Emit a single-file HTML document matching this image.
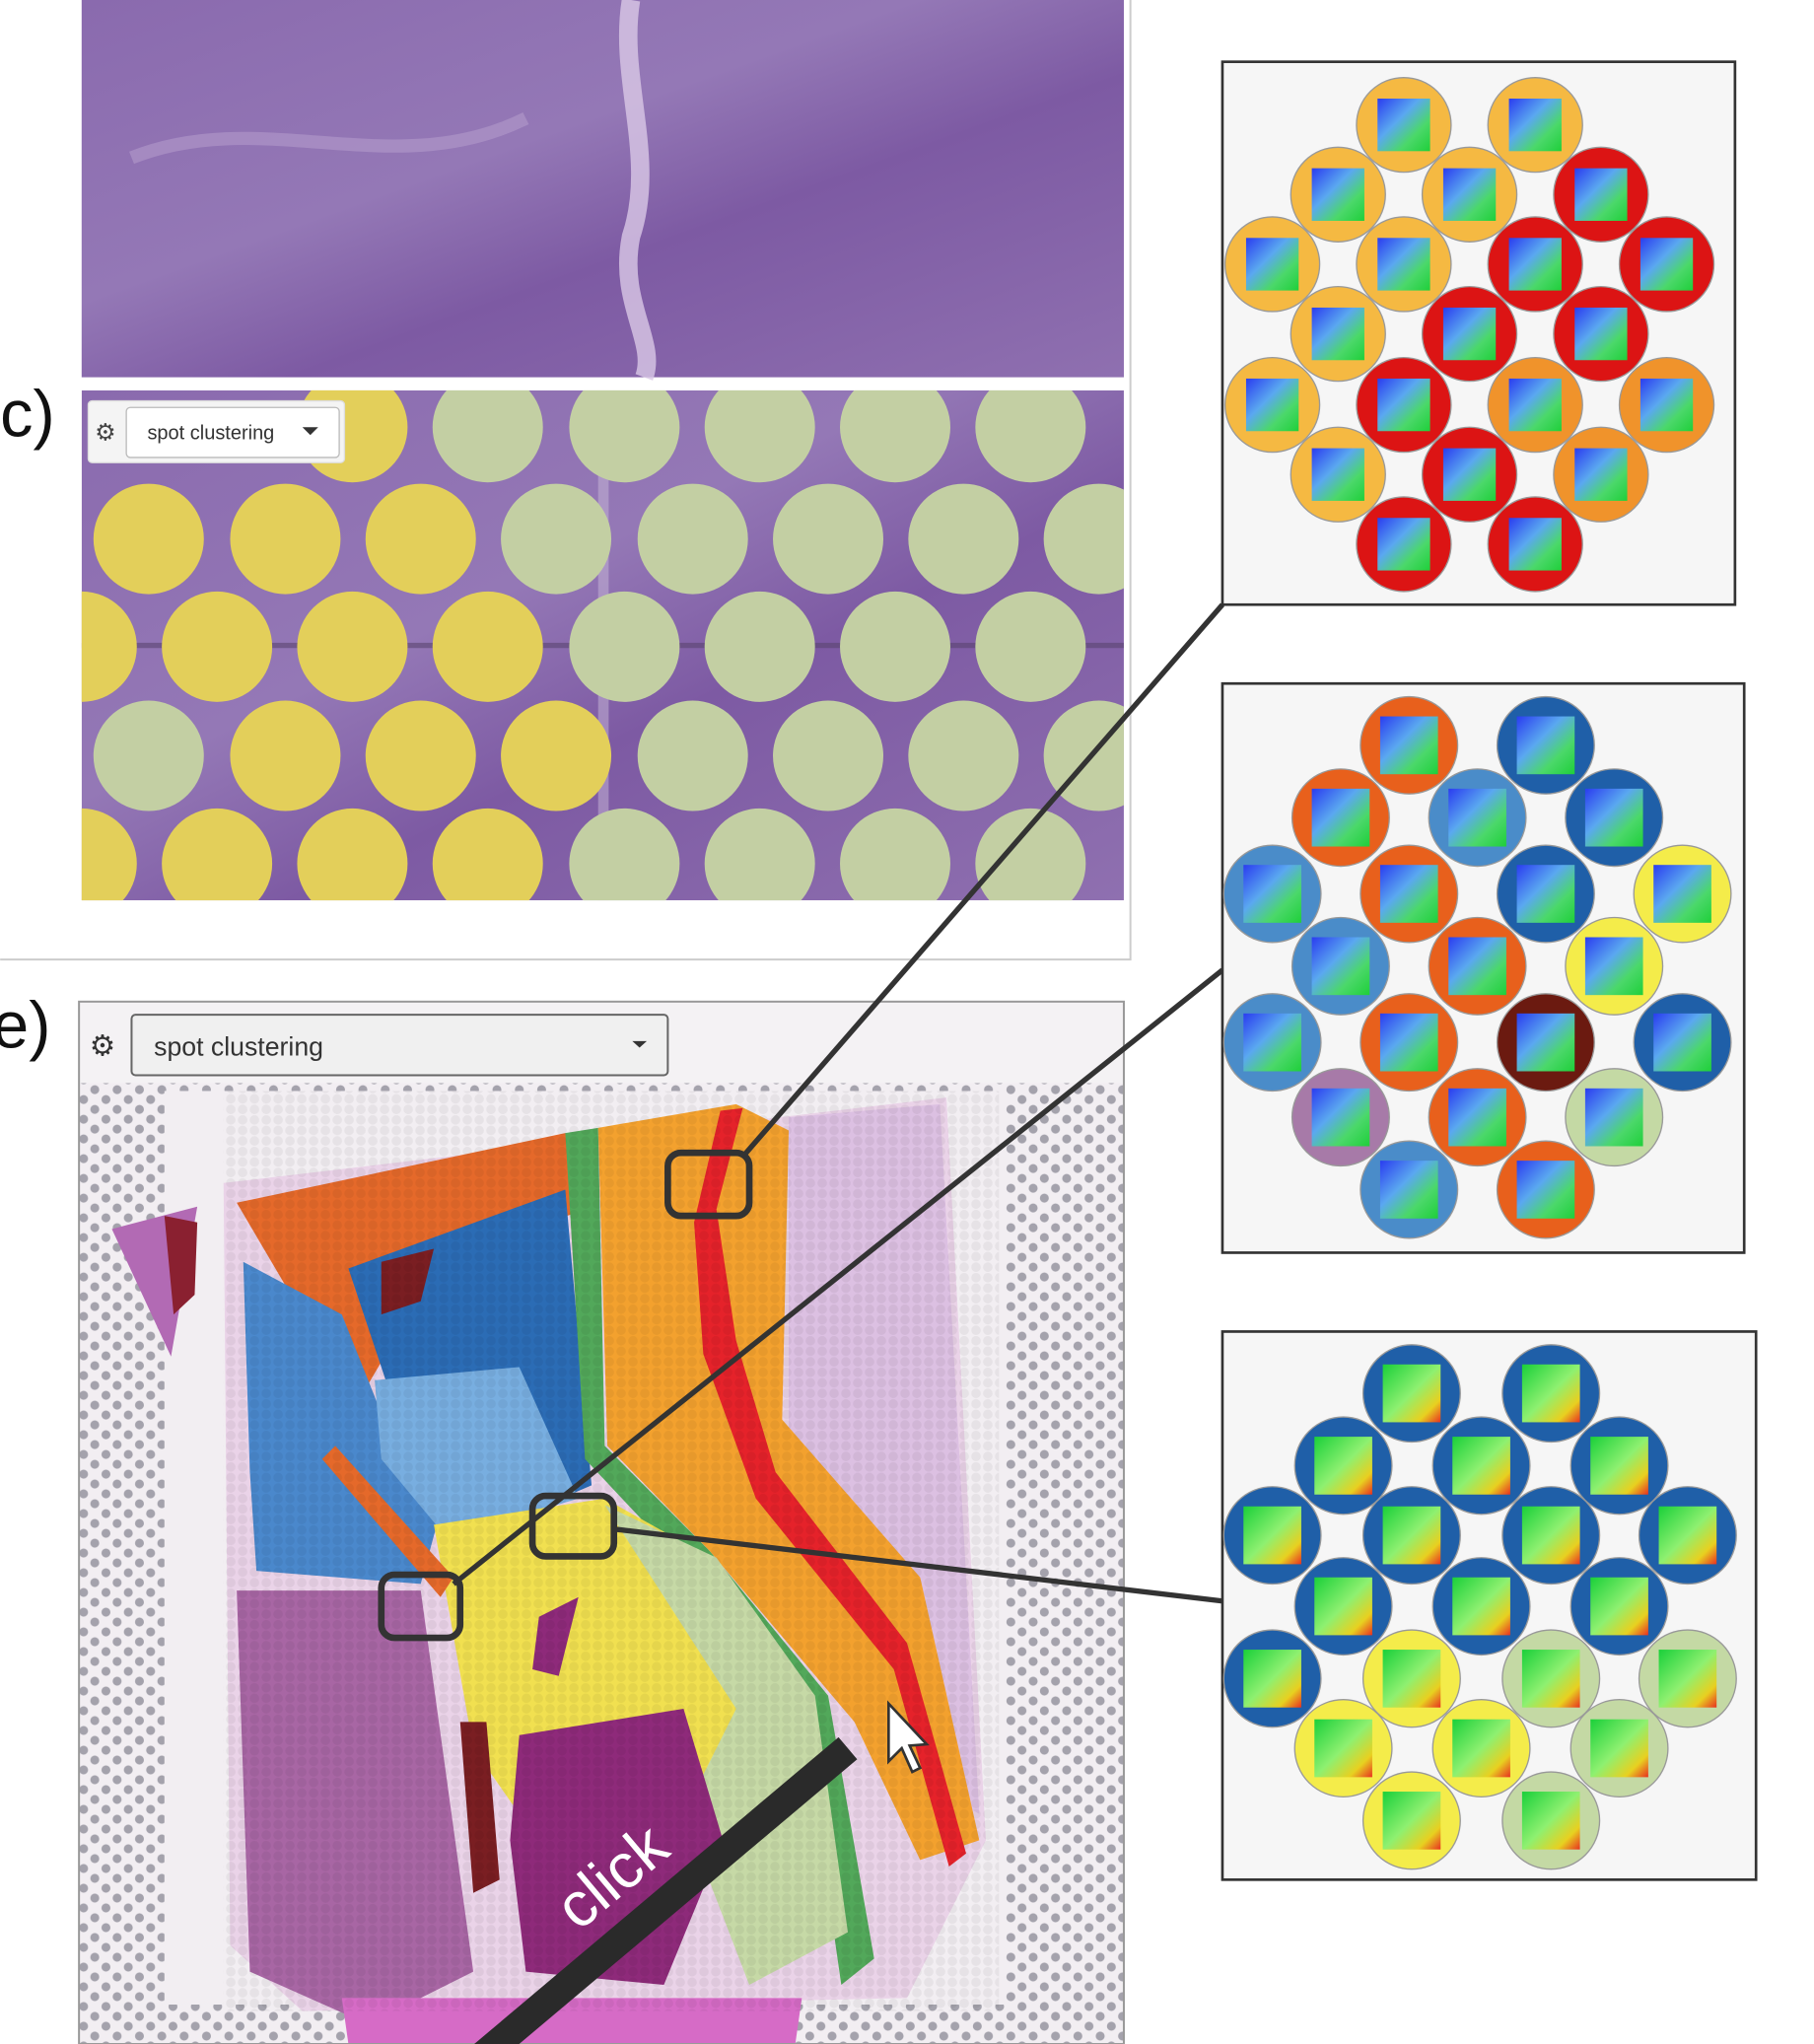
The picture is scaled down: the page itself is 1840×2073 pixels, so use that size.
<!DOCTYPE html>
<html><head><meta charset="utf-8"><style>
html,body{margin:0;padding:0;background:#fff;}
svg{display:block;}
text{font-family:"Liberation Sans",sans-serif;}
</style></head><body>
<svg width="1840" height="2073" viewBox="0 0 1380 1555" xmlns="http://www.w3.org/2000/svg">
<defs>
<linearGradient id="pur" x1="0" y1="0" x2="1" y2="1">
<stop offset="0" stop-color="#8a6aae"/><stop offset="0.4" stop-color="#9478b6"/><stop offset="0.6" stop-color="#7d5aa3"/><stop offset="1" stop-color="#8f70b0"/></linearGradient>
<linearGradient id="hm" x1="0" y1="0" x2="1" y2="1">
<stop offset="0" stop-color="#2a3cf0"/><stop offset="0.4" stop-color="#5aa8f0"/><stop offset="0.7" stop-color="#4bd86a"/><stop offset="1" stop-color="#1fcf3a"/></linearGradient>
<linearGradient id="hm2" x1="0" y1="0" x2="1" y2="1">
<stop offset="0" stop-color="#1ad03a"/><stop offset="0.5" stop-color="#8ef070"/><stop offset="0.8" stop-color="#e8d020"/><stop offset="1" stop-color="#e83020"/></linearGradient>
<pattern id="dots" width="17" height="15" patternUnits="userSpaceOnUse"><circle cx="4" cy="4" r="3.4" fill="#a4a2ac"/><circle cx="12.5" cy="11.5" r="3.4" fill="#a4a2ac"/></pattern>
<pattern id="hex" width="9" height="8" patternUnits="userSpaceOnUse"><circle cx="4.5" cy="4" r="3.6" fill="#000" fill-opacity="0.05"/></pattern>
<clipPath id="cc"><rect x="62" y="297" width="793" height="388"/></clipPath>
<clipPath id="ce"><rect x="60" y="762" width="795" height="793"/></clipPath>
</defs>
<polyline points="0,730 860,730 860,0" fill="none" stroke="#ccc" stroke-width="1.5"/>
<rect x="62" y="0" width="793" height="287" fill="url(#pur)"/>
<path d="M480,0 C470,60 500,120 480,180 C470,230 500,260 490,287" stroke="#d9c8e6" stroke-width="14" fill="none" opacity="0.8"/>
<path d="M100,120 C200,80 300,140 400,90" stroke="#b9a2d0" stroke-width="10" fill="none" opacity="0.5"/>
<g clip-path="url(#cc)">
<rect x="62" y="297" width="793" height="388" fill="url(#pur)"/>
<rect x="62" y="489" width="793" height="4" fill="#5a4570" opacity="0.6"/>
<rect x="455" y="297" width="8" height="388" fill="#c8b8d8" opacity="0.5"/>
<g fill="#e3cf5a">
<circle cx="268" cy="325" r="42"/>
<circle cx="113" cy="410" r="42"/><circle cx="217" cy="410" r="42"/><circle cx="320" cy="410" r="42"/>
<circle cx="62" cy="492" r="42"/><circle cx="165" cy="492" r="42"/><circle cx="268" cy="492" r="42"/><circle cx="371" cy="492" r="42"/>
<circle cx="217" cy="575" r="42"/><circle cx="320" cy="575" r="42"/><circle cx="423" cy="575" r="42"/>
<circle cx="62" cy="657" r="42"/><circle cx="165" cy="657" r="42"/><circle cx="268" cy="657" r="42"/><circle cx="371" cy="657" r="42"/>
</g>
<g fill="#c3cfa3">
<circle cx="371" cy="325" r="42"/><circle cx="475" cy="325" r="42"/><circle cx="578" cy="325" r="42"/><circle cx="681" cy="325" r="42"/><circle cx="784" cy="325" r="42"/>
<circle cx="423" cy="410" r="42"/><circle cx="527" cy="410" r="42"/><circle cx="630" cy="410" r="42"/><circle cx="733" cy="410" r="42"/><circle cx="836" cy="410" r="42"/>
<circle cx="475" cy="492" r="42"/><circle cx="578" cy="492" r="42"/><circle cx="681" cy="492" r="42"/><circle cx="784" cy="492" r="42"/>
<circle cx="113" cy="575" r="42"/><circle cx="527" cy="575" r="42"/><circle cx="630" cy="575" r="42"/><circle cx="733" cy="575" r="42"/><circle cx="836" cy="575" r="42"/>
<circle cx="475" cy="657" r="42"/><circle cx="578" cy="657" r="42"/><circle cx="681" cy="657" r="42"/><circle cx="784" cy="657" r="42"/>
</g>
</g>
<rect x="67" y="305" width="195" height="47" rx="3" fill="#f4f4f4" stroke="#ddd"/>
<rect x="96" y="310" width="162" height="38" rx="3" fill="#fff" stroke="#bbb"/>
<text x="72" y="335" font-size="18" fill="#444">⚙</text>
<text x="112" y="334" font-size="15" fill="#333">spot clustering</text>
<path d="M230,325 l12,0 l-6,6z" fill="#333"/>
<text x="0" y="332" font-size="50" fill="#111">c)</text>
<text x="-6" y="797" font-size="50" fill="#111">e)</text>
<g clip-path="url(#ce)">
<rect x="60" y="762" width="795" height="793" fill="#f2eef2"/>
<rect x="60" y="762" width="795" height="793" fill="url(#dots)"/>
<rect x="125" y="830" width="640" height="695" fill="#f2eef2"/>
<rect x="60" y="762" width="795" height="62" fill="#f4f2f4"/>
<path d="M170,900 L720,835 L750,1400 L690,1520 L230,1530 L175,1480 Z" fill="#ead3e8"/>
<path d="M600,850 L715,840 L745,1380 L660,1330 L600,1200 Z" fill="#dcc0e2"/>
<path d="M85,935 L150,918 L130,1032 Z" fill="#b26ab4"/>
<path d="M125,925 L150,930 L148,985 L132,1000 Z" fill="#8a2030"/>
<path d="M180,915 L430,862 L445,920 L335,960 L270,1070 L230,1000 Z" fill="#e5692a"/>
<path d="M265,965 L430,905 L450,1130 L380,1160 L300,1070 Z" fill="#2b6cb5"/>
<path d="M185,960 L260,1000 L300,1100 L335,1150 L320,1205 L195,1195 L190,1120 Z" fill="#4a88cc"/>
<path d="M285,1050 L395,1040 L440,1140 L340,1170 L290,1110 Z" fill="#78aee0"/>
<path d="M290,960 L330,950 L320,990 L290,1000 Z" fill="#7a1e22"/>
<path d="M430,862 L455,858 L460,1100 L540,1180 L630,1290 L665,1490 L640,1510 L610,1300 L520,1190 L445,1110 Z" fill="#52a85a"/>
<path d="M455,858 L560,840 L600,860 L595,1080 L700,1200 L745,1400 L700,1415 L650,1310 L540,1180 L462,1100 Z" fill="#f3a12e"/>
<path d="M548,845 L565,843 L545,920 L560,1020 L590,1120 L690,1250 L735,1410 L722,1420 L680,1270 L575,1140 L535,1030 L528,930 Z" fill="#e5222a"/>
<path d="M330,1160 L460,1140 L540,1185 L600,1290 L560,1410 L430,1430 L360,1330 Z" fill="#f1e050"/>
<path d="M460,1145 L545,1185 L620,1290 L645,1470 L570,1510 L520,1380 L560,1300 Z" fill="#c6d9a6"/>
<path d="M180,1210 L320,1210 L360,1500 L280,1540 L190,1500 Z" fill="#a866a4"/>
<path d="M395,1320 L520,1300 L550,1400 L505,1510 L400,1500 L388,1400 Z" fill="#8e2a7a"/>
<path d="M410,1230 L440,1215 L425,1275 L405,1270 Z" fill="#8e2a7a"/>
<path d="M350,1310 L370,1310 L380,1430 L360,1440 Z" fill="#7a1e22"/>
<path d="M255,1100 L345,1200 L335,1215 L245,1110 Z" fill="#e5692a"/>
<path d="M260,1520 L610,1520 L605,1555 L265,1555 Z" fill="#d66bc6"/>
<rect x="170" y="830" width="590" height="700" fill="url(#hex)"/>
</g>
<rect x="60" y="762" width="795" height="793" fill="none" stroke="#999" stroke-width="1.5"/>
<rect x="100" y="772" width="408" height="46" rx="3" fill="#f0f0f0" stroke="#666" stroke-width="1.5"/>
<text x="68" y="803" font-size="22" fill="#333">⚙</text>
<text x="117" y="803" font-size="20" fill="#333">spot clustering</text>
<path d="M481,792 l11,0 l-5.5,5z" fill="#333"/>
<line x1="645" y1="1330" x2="360" y2="1570" stroke="#2a2a2a" stroke-width="22"/>
<text x="0" y="0" font-size="48" fill="#fff" transform="translate(440,1470) rotate(-40)">click</text>
<path d="M676,1296 L676,1340 L686,1330 L694,1348 L700,1345 L692,1328 L705,1327 Z" fill="#fff" stroke="#333" stroke-width="2"/>
<g stroke="#333" stroke-width="4" fill="none">
<line x1="930" y1="460" x2="565" y2="880"/>
<line x1="930" y1="738" x2="345" y2="1205"/>
<line x1="930" y1="1218" x2="465" y2="1163"/>
<rect x="508" y="877" width="62" height="48" rx="10" stroke-width="5"/>
<rect x="290" y="1198" width="60" height="48" rx="10" stroke-width="5"/>
<rect x="405" y="1138" width="62" height="46" rx="10" stroke-width="5"/>
</g>
<rect x="930" y="47" width="390" height="413" fill="#f6f6f6" stroke="#333" stroke-width="2"/>
<rect x="930" y="520" width="397" height="433" fill="#f6f6f6" stroke="#333" stroke-width="2"/>
<rect x="930" y="1013" width="406" height="417" fill="#f6f6f6" stroke="#333" stroke-width="2"/>
<g stroke="#999" stroke-width="1">
<g fill="#f5b942"><circle cx="1068" cy="95" r="36"/><circle cx="1168" cy="95" r="36"/>
<circle cx="1018" cy="148" r="36"/><circle cx="1118" cy="148" r="36"/>
<circle cx="968" cy="201" r="36"/><circle cx="1068" cy="201" r="36"/>
<circle cx="1018" cy="254" r="36"/><circle cx="968" cy="308" r="36"/><circle cx="1018" cy="361" r="36"/></g>
<g fill="#dc1414"><circle cx="1218" cy="148" r="36"/><circle cx="1168" cy="201" r="36"/><circle cx="1268" cy="201" r="36"/>
<circle cx="1118" cy="254" r="36"/><circle cx="1218" cy="254" r="36"/><circle cx="1068" cy="308" r="36"/>
<circle cx="1118" cy="361" r="36"/><circle cx="1068" cy="414" r="36"/><circle cx="1168" cy="414" r="36"/></g>
<g fill="#f0932b"><circle cx="1168" cy="308" r="36"/><circle cx="1268" cy="308" r="36"/><circle cx="1218" cy="361" r="36"/></g>
<g fill="#e8601c"><circle cx="1072" cy="567" r="37"/><circle cx="1020" cy="622" r="37"/><circle cx="1072" cy="680" r="37"/><circle cx="1124" cy="735" r="37"/><circle cx="1072" cy="793" r="37"/><circle cx="1124" cy="850" r="37"/><circle cx="1176" cy="905" r="37"/></g>
<g fill="#1f5fa8"><circle cx="1176" cy="567" r="37"/><circle cx="1228" cy="622" r="37"/><circle cx="1176" cy="680" r="37"/><circle cx="1280" cy="793" r="37"/></g>
<g fill="#4a8cc9"><circle cx="1124" cy="622" r="37"/><circle cx="968" cy="680" r="37"/><circle cx="1020" cy="735" r="37"/><circle cx="968" cy="793" r="37"/><circle cx="1072" cy="905" r="37"/></g>
<g fill="#f4ec4a"><circle cx="1280" cy="680" r="37"/><circle cx="1228" cy="735" r="37"/></g>
<circle cx="1176" cy="793" r="37" fill="#6b1a10"/>
<circle cx="1020" cy="850" r="37" fill="#a77aa8"/>
<circle cx="1228" cy="850" r="37" fill="#c4d9a4"/>
<g fill="#1f5fa8"><circle cx="1074" cy="1060" r="37"/><circle cx="1180" cy="1060" r="37"/>
<circle cx="1022" cy="1115" r="37"/><circle cx="1127" cy="1115" r="37"/><circle cx="1232" cy="1115" r="37"/>
<circle cx="968" cy="1168" r="37"/><circle cx="1074" cy="1168" r="37"/><circle cx="1180" cy="1168" r="37"/><circle cx="1284" cy="1168" r="37"/>
<circle cx="1022" cy="1222" r="37"/><circle cx="1127" cy="1222" r="37"/><circle cx="1232" cy="1222" r="37"/><circle cx="968" cy="1277" r="37"/></g>
<g fill="#f4ec4a"><circle cx="1074" cy="1277" r="37"/><circle cx="1022" cy="1330" r="37"/><circle cx="1127" cy="1330" r="37"/><circle cx="1074" cy="1385" r="37"/></g>
<g fill="#c4d9a4"><circle cx="1180" cy="1277" r="37"/><circle cx="1284" cy="1277" r="37"/><circle cx="1232" cy="1330" r="37"/><circle cx="1180" cy="1385" r="37"/></g>
</g>
<g fill="url(#hm)">
<rect x="1048" y="75" width="40" height="40"/><rect x="1148" y="75" width="40" height="40"/>
<rect x="998" y="128" width="40" height="40"/><rect x="1098" y="128" width="40" height="40"/><rect x="1198" y="128" width="40" height="40"/>
<rect x="948" y="181" width="40" height="40"/><rect x="1048" y="181" width="40" height="40"/><rect x="1148" y="181" width="40" height="40"/><rect x="1248" y="181" width="40" height="40"/>
<rect x="998" y="234" width="40" height="40"/><rect x="1098" y="234" width="40" height="40"/><rect x="1198" y="234" width="40" height="40"/>
<rect x="948" y="288" width="40" height="40"/><rect x="1048" y="288" width="40" height="40"/><rect x="1148" y="288" width="40" height="40"/><rect x="1248" y="288" width="40" height="40"/>
<rect x="998" y="341" width="40" height="40"/><rect x="1098" y="341" width="40" height="40"/><rect x="1198" y="341" width="40" height="40"/>
<rect x="1048" y="394" width="40" height="40"/><rect x="1148" y="394" width="40" height="40"/>
<rect x="1050" y="545" width="44" height="44"/><rect x="1154" y="545" width="44" height="44"/>
<rect x="998" y="600" width="44" height="44"/><rect x="1102" y="600" width="44" height="44"/><rect x="1206" y="600" width="44" height="44"/>
<rect x="946" y="658" width="44" height="44"/><rect x="1050" y="658" width="44" height="44"/><rect x="1154" y="658" width="44" height="44"/><rect x="1258" y="658" width="44" height="44"/>
<rect x="998" y="713" width="44" height="44"/><rect x="1102" y="713" width="44" height="44"/><rect x="1206" y="713" width="44" height="44"/>
<rect x="946" y="771" width="44" height="44"/><rect x="1050" y="771" width="44" height="44"/><rect x="1154" y="771" width="44" height="44"/><rect x="1258" y="771" width="44" height="44"/>
<rect x="998" y="828" width="44" height="44"/><rect x="1102" y="828" width="44" height="44"/><rect x="1206" y="828" width="44" height="44"/>
<rect x="1050" y="883" width="44" height="44"/><rect x="1154" y="883" width="44" height="44"/>
</g>
<g fill="url(#hm2)">
<rect x="1052" y="1038" width="44" height="44"/><rect x="1158" y="1038" width="44" height="44"/>
<rect x="1000" y="1093" width="44" height="44"/><rect x="1105" y="1093" width="44" height="44"/><rect x="1210" y="1093" width="44" height="44"/>
<rect x="946" y="1146" width="44" height="44"/><rect x="1052" y="1146" width="44" height="44"/><rect x="1158" y="1146" width="44" height="44"/><rect x="1262" y="1146" width="44" height="44"/>
<rect x="1000" y="1200" width="44" height="44"/><rect x="1105" y="1200" width="44" height="44"/><rect x="1210" y="1200" width="44" height="44"/>
<rect x="946" y="1255" width="44" height="44"/><rect x="1052" y="1255" width="44" height="44"/><rect x="1158" y="1255" width="44" height="44"/><rect x="1262" y="1255" width="44" height="44"/>
<rect x="1000" y="1308" width="44" height="44"/><rect x="1105" y="1308" width="44" height="44"/><rect x="1210" y="1308" width="44" height="44"/>
<rect x="1052" y="1363" width="44" height="44"/><rect x="1158" y="1363" width="44" height="44"/>
</g>
</svg>
</body></html>
